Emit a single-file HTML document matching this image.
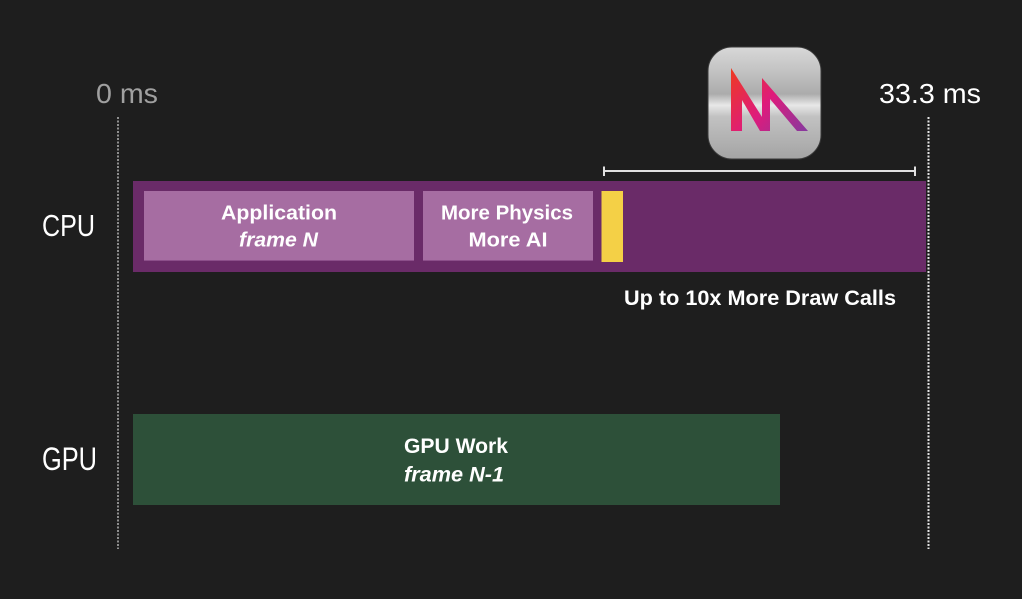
<!DOCTYPE html>
<html>
<head>
<meta charset="utf-8">
<style>
  html, body { margin: 0; padding: 0; background: #1e1e1e; }
  body { width: 1022px; height: 599px; overflow: hidden; }
  svg { display: block; }
  text { font-family: "Liberation Sans", sans-serif; }
</style>
</head>
<body>
<svg width="1022" height="599" viewBox="0 0 1022 599" xmlns="http://www.w3.org/2000/svg">
  <defs>
    <linearGradient id="metal" x1="0" y1="0" x2="0" y2="1">
      <stop offset="0" stop-color="#d8d8d8"/>
      <stop offset="0.2" stop-color="#c4c4c4"/>
      <stop offset="0.42" stop-color="#acacac"/>
      <stop offset="0.52" stop-color="#e8e8e8"/>
      <stop offset="0.62" stop-color="#c2c2c2"/>
      <stop offset="1" stop-color="#a4a4a4"/>
    </linearGradient>
    <linearGradient id="mgrad" gradientUnits="userSpaceOnUse" x1="731" y1="70" x2="807" y2="131">
      <stop offset="0" stop-color="#ee3a22"/>
      <stop offset="0.5" stop-color="#de1b7c"/>
      <stop offset="1" stop-color="#86399e"/>
    </linearGradient>
  </defs>

  <rect width="1022" height="599" fill="#1e1e1e"/>

  <!-- dotted time markers -->
  <line x1="118" y1="117" x2="118" y2="549" stroke="#8e8e8e" stroke-width="2" stroke-dasharray="2 1.5"/>
  <line x1="928.5" y1="117" x2="928.5" y2="549" stroke="#e4e4e4" stroke-width="2" stroke-dasharray="2 1.5"/>

  <!-- time labels -->
  <text x="96" y="103" font-size="28" fill="#a0a0a0" textLength="62" lengthAdjust="spacingAndGlyphs">0 ms</text>
  <text x="879" y="103" font-size="28" fill="#ffffff" textLength="102" lengthAdjust="spacingAndGlyphs">33.3 ms</text>

  <!-- Metal icon -->
  <rect x="708" y="47" width="113" height="112" rx="24" ry="24" fill="url(#metal)" stroke="#3a3a3a" stroke-width="1"/>
  <polygon points="731,68 762,117 762,78 808,131 797,131 770,99 770,131 760,131 742,100 742,131 731,131" fill="url(#mgrad)"/>

  <!-- bracket -->
  <line x1="603" y1="171" x2="916" y2="171" stroke="#e0e0e0" stroke-width="2"/>
  <line x1="604" y1="166.5" x2="604" y2="176" stroke="#e0e0e0" stroke-width="2"/>
  <line x1="915" y1="166.5" x2="915" y2="176" stroke="#e0e0e0" stroke-width="2"/>

  <!-- CPU row -->
  <text x="42" y="236" font-size="31" fill="#ffffff" textLength="53" lengthAdjust="spacingAndGlyphs">CPU</text>
  <rect x="133" y="181" width="793" height="91" fill="#6a2b68"/>
  <rect x="144" y="191" width="270" height="70" fill="#a66da2"/>
  <rect x="144" y="260" width="270" height="1" fill="#8c4f8a"/>
  <rect x="423" y="191" width="170" height="70" fill="#a66da2"/>
  <rect x="423" y="260" width="170" height="1" fill="#8c4f8a"/>
  <rect x="601.5" y="191" width="21.5" height="71" fill="#f4d046"/>

  <text x="279" y="219.5" font-size="20" font-weight="bold" fill="#ffffff" text-anchor="middle" textLength="116" lengthAdjust="spacingAndGlyphs">Application</text>
  <text x="278.5" y="246.5" font-size="20" font-weight="bold" font-style="italic" fill="#ffffff" text-anchor="middle" textLength="79" lengthAdjust="spacingAndGlyphs">frame N</text>
  <text x="507" y="219.5" font-size="20" font-weight="bold" fill="#ffffff" text-anchor="middle" textLength="132" lengthAdjust="spacingAndGlyphs">More Physics</text>
  <text x="508" y="246.5" font-size="20" font-weight="bold" fill="#ffffff" text-anchor="middle" textLength="79" lengthAdjust="spacingAndGlyphs">More AI</text>

  <text x="760" y="305" font-size="21" font-weight="bold" fill="#ffffff" text-anchor="middle" textLength="272" lengthAdjust="spacingAndGlyphs">Up to 10x More Draw Calls</text>

  <!-- GPU row -->
  <text x="42" y="470" font-size="32" fill="#ffffff" textLength="55" lengthAdjust="spacingAndGlyphs">GPU</text>
  <rect x="133" y="414" width="647" height="91" fill="#2d5039"/>
  <text x="456" y="453" font-size="21" font-weight="bold" fill="#ffffff" text-anchor="middle" textLength="104" lengthAdjust="spacingAndGlyphs">GPU Work</text>
  <text x="454" y="481.5" font-size="21" font-weight="bold" font-style="italic" fill="#ffffff" text-anchor="middle" textLength="100" lengthAdjust="spacingAndGlyphs">frame N-1</text>
</svg>
</body>
</html>
